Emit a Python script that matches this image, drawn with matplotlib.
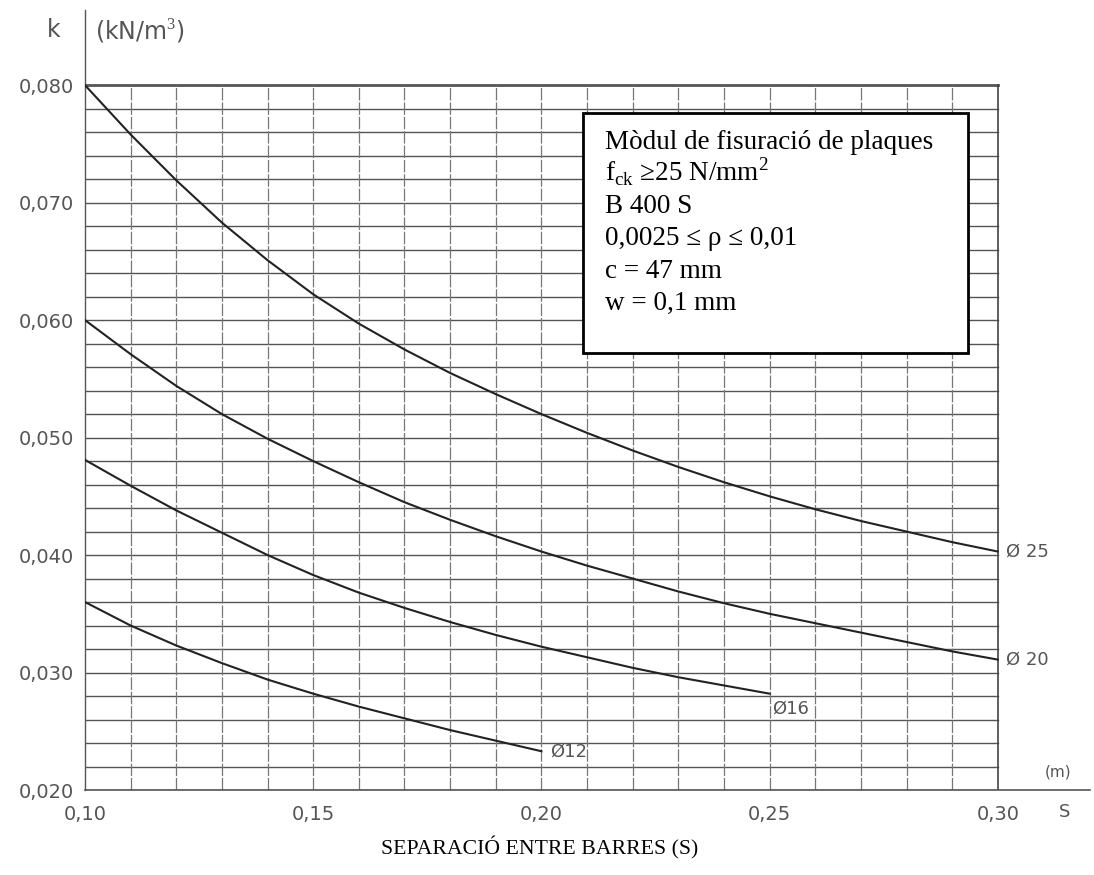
import numpy as np
import matplotlib.pyplot as plt
from matplotlib.patches import Rectangle

# separació entre barres S (m) i mòdul k (kN/m3) per a cada diàmetre
s_25 = [0.10, 0.11, 0.12, 0.13, 0.14, 0.15, 0.16, 0.17, 0.18, 0.19, 0.20,
        0.21, 0.22, 0.23, 0.24, 0.25, 0.26, 0.27, 0.28, 0.29, 0.30]
k_25 = [0.0800, 0.0758, 0.0719, 0.0683, 0.0651, 0.0622, 0.0597, 0.0575, 0.0555, 0.0537, 0.0520,
        0.0504, 0.0489, 0.0475, 0.0462, 0.0450, 0.0439, 0.0429, 0.0420, 0.0411, 0.0403]

s_20 = s_25
k_20 = [0.0600, 0.0571, 0.0544, 0.0520, 0.0499, 0.0480, 0.0462, 0.0445, 0.0430, 0.0416, 0.0403,
        0.0391, 0.0380, 0.0369, 0.0359, 0.0350, 0.0342, 0.0334, 0.0326, 0.0318, 0.0311]

s_16 = [0.10, 0.11, 0.12, 0.13, 0.14, 0.15, 0.16, 0.17, 0.18, 0.19, 0.20,
        0.21, 0.22, 0.23, 0.24, 0.25]
k_16 = [0.0481, 0.0459, 0.0438, 0.0419, 0.0400, 0.0383, 0.0368, 0.0355, 0.0343, 0.0332, 0.0322,
        0.0313, 0.0304, 0.0296, 0.0289, 0.0282]

s_12 = [0.10, 0.11, 0.12, 0.13, 0.14, 0.15, 0.16, 0.17, 0.18, 0.19, 0.20]
k_12 = [0.0360, 0.0340, 0.0323, 0.0308, 0.0294, 0.0282, 0.0271, 0.0261, 0.0251, 0.0242, 0.0233]

labels = ['Ø 25', 'Ø 20', 'Ø16', 'Ø12']

x_ticks = [0.10, 0.15, 0.20, 0.25, 0.30]
x_ticklabels = ['0,10', '0,15', '0,20', '0,25', '0,30']
y_ticks = [0.020, 0.030, 0.040, 0.050, 0.060, 0.070, 0.080]
y_ticklabels = ['0,020', '0,030', '0,040', '0,050', '0,060', '0,070', '0,080']

box_lines = ['Mòdul de fisuració de plaques',
             r'f$_{\mathrm{ck}}$ ≥25 N/mm$^{2}$',
             'B 400 S',
             '0,0025 ≤ ρ ≤ 0,01',
             'c = 47 mm',
             'w = 0,1 mm']

plt.rcParams['mathtext.fontset'] = 'custom'
plt.rcParams['mathtext.rm'] = 'Liberation Serif'

xmin, xmax = 0.10, 0.30
ymin, ymax = 0.020, 0.080
tech = dict(family='DejaVu Sans', color='#555555')

fig = plt.figure(figsize=(10.94, 8.75), dpi=100)
ax = fig.add_axes([85/1094, 85/875, 1005/1094, 780/875])
ax.set_xlim(xmin, 0.3202)
ax.set_ylim(ymin, 0.0864)

# quadrícula
for yy in np.arange(ymin, ymax + 1e-9, 0.002):
    lw = 2.0 if abs(yy - ymax) < 1e-9 else 1.0
    ax.plot([xmin, xmax], [yy, yy], color='#555555', lw=lw, zorder=1)
for xx in np.arange(xmin + 0.01, xmax - 1e-9, 0.01):
    ax.plot([xx, xx], [ymin, ymax], color='#777777', lw=0.9,
            ls=(0, (10, 1.5)), zorder=1)
ax.plot([xmax, xmax], [ymin, ymax], color='#444444', lw=1.2, zorder=1)

curves = [(s_25, k_25), (s_20, k_20), (s_16, k_16), (s_12, k_12)]
offsets = [(6, 0), (6, 0), (2, -11), (6, 0)]
for (s, k), lab, off in zip(curves, labels, offsets):
    ax.plot(s, k, color='#222222', lw=1.5, zorder=3, solid_joinstyle='round')
    ax.annotate(lab, xy=(s[-1], k[-1]), xytext=off, textcoords='offset points',
                ha='left', va='center', fontsize=13, zorder=4, **tech)

for side in ['top', 'right']:
    ax.spines[side].set_visible(False)
ax.spines['left'].set_color('#555555')
ax.spines['bottom'].set_color('#555555')
ax.spines['left'].set_linewidth(1.0)
ax.spines['bottom'].set_linewidth(1.2)

ax.set_xticks(x_ticks)
ax.set_xticklabels(x_ticklabels, fontsize=14, **tech)
ax.set_yticks(y_ticks)
ax.set_yticklabels(y_ticklabels, fontsize=14, **tech)
ax.tick_params(axis='both', length=0)
ax.tick_params(axis='x', pad=11)
ax.tick_params(axis='y', pad=8)

# etiquetes dels eixos
fig.text(54/1094, 1 - 30/875, 'k', ha='center', va='center', fontsize=17, **tech)
fig.text(95/1094, 1 - 32/875, '(kN/m$^3$)', ha='left', va='center', fontsize=17, **tech)
fig.text(1058/1094, 1 - 772/875, '(m)', ha='center', va='center', fontsize=11, **tech)
fig.text(1065/1094, 1 - 812/875, 'S', ha='center', va='center', fontsize=13, **tech)

fig.text(540/1094, 1 - 848/875, 'SEPARACIÓ ENTRE BARRES (S)', ha='center', va='center',
         fontsize=15.7, family=['Liberation Serif', 'DejaVu Serif'], color='black')

# requadre de text
fig.patches.append(Rectangle((583/1094, 1 - 353/875), 385/1094, 240/875,
                             transform=fig.transFigure, facecolor='white',
                             edgecolor='black', lw=2.0, zorder=5))
baselines = [149, 181, 213, 245, 278, 310]
for line, yb in zip(box_lines, baselines):
    fig.text(605/1094, 1 - yb/875, line, ha='left', va='baseline', fontsize=19.5,
             family=['Liberation Serif', 'DejaVu Serif'], color='black', zorder=6)

fig.savefig('out.png', dpi=100)
